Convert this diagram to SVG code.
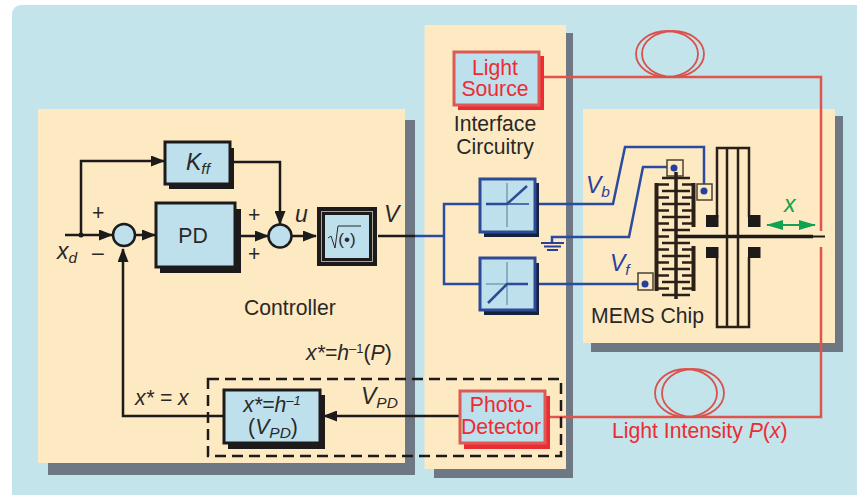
<svg xmlns="http://www.w3.org/2000/svg" width="857" height="495" viewBox="0 0 857 495">
<style>
text{font-family:"Liberation Sans",Arial,sans-serif;fill:#2a2826;font-size:21.2px}
.i{font-style:italic}
.c{text-anchor:middle}
.r{fill:#ee2b33}
.b{fill:#2b3f9c}
.g{fill:#12a150}
.panel{fill:#fdeac3}
.shadow{fill:#6e7884}
.blk{fill:#bde0ec;stroke:#1c1a1a;stroke-width:3}
.sh{fill:#1c1a1a}
.bblk{fill:#bde0ec;stroke:#2c4a96;stroke-width:3}
.bsh{fill:#14213f}
.rblk{fill:#bde0ec;stroke:#dc5a55;stroke-width:3}
.rsh{fill:#ee2b33}
.k{fill:none;stroke:#1c1a1a;stroke-width:2.5}
.bl{fill:none;stroke:#2b4ba0;stroke-width:2.5}
.rl{fill:none;stroke:#e0544c;stroke-width:2.5}
.loop{fill:none;stroke:#d9524e;stroke-width:1.8}
.pad{fill:#fdeac3;stroke:#4a4330;stroke-width:1.5}
.dot{fill:#22409c}
.sum{fill:#bde0ec;stroke:#1c1a1a;stroke-width:2.5}
.tf{fill:none;stroke:#4f7f9c;stroke-width:1}
.comb{fill:none;stroke:#2a2018;stroke-width:2.6}
.big{font-size:23px}
.sub{font-size:15.500px}
</style>
<defs>
<marker id="ah" markerWidth="14" markerHeight="11" refX="13" refY="5.500" orient="auto" markerUnits="userSpaceOnUse"><path d="M0,0L14,5.500L0,11Z" fill="#1c1a1a"/></marker>
<marker id="ga" markerWidth="17" markerHeight="10" refX="16" refY="5" orient="auto-start-reverse" markerUnits="userSpaceOnUse"><path d="M0,0L17,5L0,10Z" fill="#12a150"/></marker>
</defs>
<rect x="0" y="0" width="857" height="495" fill="#fff"/>
<rect x="12" y="5" width="860" height="505" rx="9" fill="#c2e4ea"/>

<g id="panels">
<rect class="shadow" x="48" y="120" width="367" height="355"/>
<rect class="panel" x="38" y="109" width="367" height="354"/>
<rect class="shadow" x="434" y="33" width="139" height="445"/>
<rect class="panel" x="424.500" y="25" width="141.500" height="444"/>
<rect class="shadow" x="591" y="116" width="252" height="236"/>
<rect class="panel" x="583" y="109" width="252" height="234"/>
</g>

<g id="connectors">
<path class="rl" d="M541,77H821V231M821,247V417H545"/>
<ellipse class="loop" cx="667" cy="54" rx="31" ry="23"/>
<ellipse class="loop" cx="673" cy="54" rx="31" ry="23"/>
<ellipse class="loop" cx="686" cy="393" rx="31" ry="24"/>
<ellipse class="loop" cx="693" cy="393" rx="31" ry="24"/>
<path class="k" d="M65,235H112" marker-end="url(#ah)"/>
<circle cx="81" cy="235" r="2.500" fill="#1c1a1a"/>
<path class="k" d="M81,235V161H164" marker-end="url(#ah)"/>
<path class="k" d="M232,162H280V224" marker-end="url(#ah)"/>
<path class="k" d="M135,235H155" marker-end="url(#ah)"/>
<path class="k" d="M240,236H268" marker-end="url(#ah)"/>
<path class="k" d="M292,236H316" marker-end="url(#ah)"/>
<path class="k" d="M378,236H415"/>
<path class="bl" d="M415,236H444M479,204H444V284H479"/>
<path class="bl" d="M538,204H613L625,147H704V191"/>
<path class="bl" d="M552,242V237H629L643,167H674"/>
<path class="bl" d="M538,284H645"/>
<path class="k" d="M224,416H123V249" marker-end="url(#ah)"/>
<path class="k" d="M459,416H324" marker-end="url(#ah)"/>
<rect x="208" y="379" width="353" height="77" fill="none" stroke="#1c1a1a" stroke-width="2.500" stroke-dasharray="11 6"/>
</g>

<g id="ground">
<path d="M541,243H564M544,246.500H561M547,250H558" stroke="#2b3f9c" stroke-width="2" fill="none"/>
</g>

<g id="kff">
<rect class="sh" x="169" y="148" width="65" height="41"/>
<rect class="blk" x="165" y="142" width="65" height="42"/>
<text x="186" y="170" class="i big">K<tspan class="sub" dy="4">ff</tspan></text>
</g>
<g id="pd">
<rect class="sh" x="160" y="209" width="81" height="64"/>
<rect class="blk" x="156" y="203" width="79" height="64"/>
<text x="193" y="243" class="c">PD</text>
</g>
<g id="sum1"><circle class="sum" cx="124" cy="235" r="11"/></g>
<g id="sum2"><circle class="sum" cx="280" cy="236" r="11.500"/></g>
<g id="sqrt">
<rect x="317" y="207" width="60" height="59" fill="#1c1a1a"/>
<rect x="321" y="211" width="52" height="51" fill="#a9a595"/>
<rect class="blk" x="323.500" y="213.500" width="47" height="46" stroke-width="2"/>
<path d="M328,238l3,-2l4,12l3,-22h23" fill="none" stroke="#2a2826" stroke-width="1"/>
<text x="347" y="245" class="c" style="font-size:17px">(•)</text>
</g>

<g id="light-source">
<rect class="rsh" x="458" y="56" width="86" height="54"/>
<rect class="rblk" x="454" y="52" width="85" height="53"/>
<text x="495" y="75" class="c r">Light</text>
<text x="495" y="96" class="c r">Source</text>
</g>
<g id="photo-detector">
<rect class="rsh" x="464" y="396" width="86" height="53"/>
<rect class="rblk" x="460" y="391" width="85" height="52"/>
<text x="501" y="412" class="c r">Photo-</text>
<text x="501" y="434" class="c r">Detector</text>
</g>
<g id="inverse">
<rect class="sh" x="228" y="395" width="97" height="54"/>
<rect class="blk" x="224" y="390" width="96" height="53"/>
<text x="272" y="412" class="c i">x*=h<tspan style="font-size:13px" dy="-7">–1</tspan></text>
<text x="273" y="434" class="c">(<tspan class="i">V</tspan><tspan class="i sub" dy="4">PD</tspan><tspan dy="-4">)</tspan></text>
</g>
<g id="amp-top">
<rect class="bsh" x="484" y="183" width="55" height="54"/>
<rect class="bblk" x="480" y="179" width="55" height="53"/>
<path class="tf" d="M507,183V227"/>
<path d="M486,204H529" stroke="#2c4a96" stroke-width="1.500"/>
<path d="M486,204H507L527,186" fill="none" stroke="#2c4a96" stroke-width="2.500"/>
</g>
<g id="amp-bottom">
<rect class="bsh" x="484" y="263" width="55" height="52"/>
<rect class="bblk" x="480" y="258" width="55" height="52"/>
<path class="tf" d="M507,262V305M486,284H528"/>
<path d="M488,303L507,284H528" fill="none" stroke="#2c4a96" stroke-width="2.500"/>
</g>

<g id="mems">
<rect class="pad" x="667" y="160" width="16" height="16"/><circle class="dot" cx="674" cy="168" r="3.500"/>
<rect class="pad" x="697" y="184" width="15" height="16"/><circle class="dot" cx="704" cy="191" r="3.500"/>
<rect class="pad" x="638" y="273" width="15" height="17"/><circle class="dot" cx="645" cy="284" r="3.500"/>
<path d="M656.500,183V291M693.500,183V227M693.500,246V291" stroke="#2a2018" stroke-width="4" fill="none"/>
<path d="M676,172V299" stroke="#2a2018" stroke-width="3.500" fill="none"/>
<path class="comb" d="M662,178H690M662,191H690M662,204H690M662,217H690M662,230H690M662,243H690M662,256H690M662,269H690M662,282H690M662,295H690"/>
<path class="comb" d="M657,184.500H669M657,197.500H669M657,210.500H669M657,223.500H669M657,236.500H669M657,249.500H669M657,262.500H669M657,275.500H669M657,288.500H669"/>
<path class="comb" d="M693,184.500H682M693,197.500H682M693,210.500H682M693,223.500H682M693,249.500H682M693,262.500H682M693,275.500H682M693,288.500H682"/>
<path d="M676,236.500H813" stroke="#1c1a1a" stroke-width="3.500" fill="none"/>
<path d="M813,236.500H825" stroke="#1c1a1a" stroke-width="2" fill="none"/>
<path d="M717,217V148H749V217M717,257V327H749V257M727,148V327M738,148V327" stroke="#2a2018" stroke-width="2.500" fill="none"/>
<rect x="706" y="215" width="12.500" height="12" fill="#1c1a1a"/>
<rect x="748" y="215" width="12.500" height="12" fill="#1c1a1a"/>
<rect x="706" y="247" width="12.500" height="11" fill="#1c1a1a"/>
<rect x="748" y="247" width="12.500" height="11" fill="#1c1a1a"/>
<path d="M767,225H815" stroke="#12a150" stroke-width="2" marker-start="url(#ga)" marker-end="url(#ga)" fill="none"/>
</g>

<g id="labels">
<text x="57" y="259" class="i big">x<tspan class="sub" dy="4">d</tspan></text>
<text x="92" y="220">+</text>
<text x="92" y="260">–</text>
<text x="248" y="222">+</text>
<text x="248" y="261">+</text>
<text x="295" y="222" class="i big">u</text>
<text x="384" y="222" class="i big">V</text>
<text x="244" y="315">Controller</text>
<text x="495" y="131" class="c">Interface</text>
<text x="495" y="154" class="c">Circuitry</text>
<text x="591" y="323">MEMS Chip</text>
<text x="306" y="360" class="i">x*=h<tspan style="font-size:13px;font-style:normal" dy="-7">–1</tspan><tspan dy="7" font-style="normal">(</tspan>P<tspan font-style="normal">)</tspan></text>
<text x="135" y="405" class="i">x* = x</text>
<text x="361" y="404" class="i big">V<tspan class="sub" dy="4">PD</tspan></text>
<text x="586" y="193" class="i b big">V<tspan class="sub" dy="4">b</tspan></text>
<text x="610" y="271" class="i b big">V<tspan class="sub" dy="4">f</tspan></text>
<text x="784" y="212" class="i g big">x</text>
<text x="612" y="438" class="r">Light Intensity <tspan class="i">P</tspan>(<tspan class="i">x</tspan>)</text>
</g>
</svg>
